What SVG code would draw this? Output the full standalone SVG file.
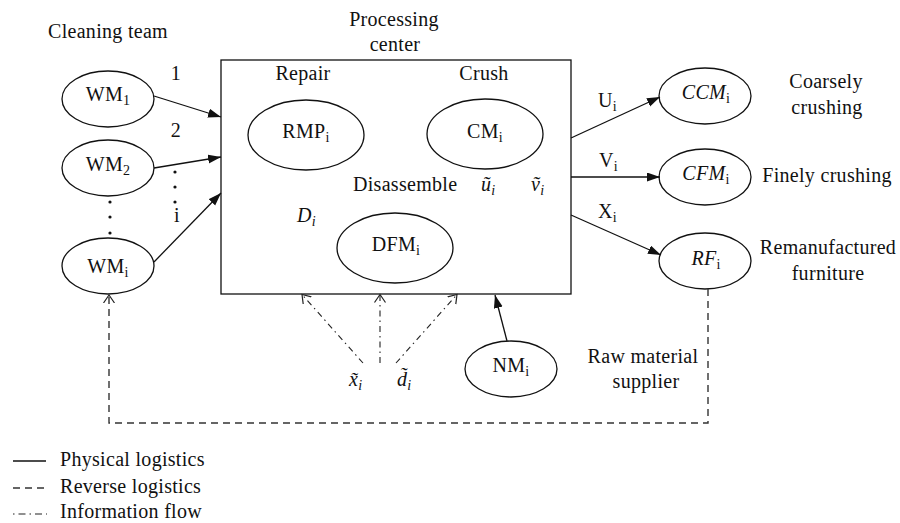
<svg xmlns="http://www.w3.org/2000/svg" width="900" height="523" viewBox="0 0 900 523">
<style>
text{font-family:"Liberation Serif","Times New Roman",serif;font-size:20px;fill:#111;letter-spacing:0.3px}
.c{text-anchor:middle}
.it{font-style:italic}
.sub{font-size:14px}
.node{fill:#fff;stroke:#111;stroke-width:1.3}
.solid{fill:none;stroke:#111;stroke-width:1.3}
.dash{fill:none;stroke:#333;stroke-width:1.4;stroke-dasharray:7 5}
.dd{fill:none;stroke:#222;stroke-width:1.1;stroke-dasharray:6 4 1.5 4}
</style>
<defs>
<marker id="arr" markerUnits="userSpaceOnUse" markerWidth="14" markerHeight="10" refX="13" refY="4.5" orient="auto">
<path d="M0,0 L13,4.5 L0,9 z" fill="#111"/>
</marker>
<marker id="open" markerUnits="userSpaceOnUse" markerWidth="12" markerHeight="14" refX="8" refY="6" orient="auto">
<path d="M0,0.5 L8,6 L0,11.5" fill="none" stroke="#222" stroke-width="1.2"/>
</marker>
</defs>

<rect fill="#fff" width="900" height="523"/>

<text class="c" x="108" y="38">Cleaning team</text>
<text class="c" x="394" y="26">Processing</text>
<text class="c" x="395" y="51">center</text>

<g id="processing-center">
<rect x="221" y="60" width="350" height="234" class="node"/>
<text class="c" x="303" y="80">Repair</text>
<text class="c" x="484" y="80">Crush</text>
<text x="353" y="191">Disassemble</text>
<text class="it" x="297" y="222">D<tspan class="sub" dy="4">i</tspan></text>
<text class="it" x="481" y="191">ũ<tspan class="sub" dy="4">i</tspan></text>
<text class="it" x="531" y="191">ṽ<tspan class="sub" dy="4">i</tspan></text>
</g>

<g id="RMP">
<ellipse cx="306" cy="135" rx="58" ry="35" class="node"/>
<text class="c" x="306" y="138">RMP<tspan class="sub" dy="4">i</tspan></text>
</g>
<g id="CM">
<ellipse cx="485" cy="134" rx="58" ry="35" class="node"/>
<text class="c" x="485" y="138">CM<tspan class="sub" dy="4">i</tspan></text>
</g>
<g id="DFM">
<ellipse cx="395" cy="248" rx="58" ry="35" class="node"/>
<text class="c" x="396" y="251">DFM<tspan class="sub" dy="4">i</tspan></text>
</g>

<g id="WM1">
<ellipse cx="108" cy="99" rx="46" ry="28" class="node"/>
<text class="c" x="108" y="101">WM<tspan class="sub" dy="4">1</tspan></text>
</g>
<g id="WM2">
<ellipse cx="108" cy="168" rx="46" ry="28" class="node"/>
<text class="c" x="108" y="171">WM<tspan class="sub" dy="4">2</tspan></text>
</g>
<g id="WMi">
<ellipse cx="108" cy="266" rx="46" ry="28" class="node"/>
<text class="c" x="108" y="273">WM<tspan class="sub" dy="4">i</tspan></text>
</g>
<g id="wm-dots" fill="#111">
<circle cx="110" cy="202" r="1.6"/>
<circle cx="110" cy="217" r="1.6"/>
<circle cx="110" cy="233" r="1.6"/>
</g>

<g id="CCM">
<ellipse cx="705" cy="96" rx="46" ry="28" class="node"/>
<text class="c" x="706" y="99"><tspan class="it">CCM</tspan><tspan class="sub" dy="4">i</tspan></text>
<text class="c" x="826" y="88">Coarsely</text>
<text class="c" x="827" y="114">crushing</text>
</g>
<g id="CFM">
<ellipse cx="705" cy="177" rx="46" ry="28" class="node"/>
<text class="c" x="706" y="180"><tspan class="it">CFM</tspan><tspan class="sub" dy="4">i</tspan></text>
<text class="c" x="827" y="182">Finely crushing</text>
</g>
<g id="RF">
<ellipse cx="705" cy="261" rx="46" ry="28" class="node"/>
<text class="c" x="706" y="265"><tspan class="it">RF</tspan><tspan class="sub" dy="4">i</tspan></text>
<text class="c" x="828" y="254">Remanufactured</text>
<text class="c" x="828" y="280">furniture</text>
</g>
<g id="NM">
<ellipse cx="511" cy="369" rx="46" ry="28" class="node"/>
<text class="c" x="511" y="372">NM<tspan class="sub" dy="4">i</tspan></text>
<text class="c" x="643" y="363">Raw material</text>
<text class="c" x="646" y="388">supplier</text>
</g>

<g id="connectors">
<line x1="154" y1="96" x2="221" y2="117" class="solid" marker-end="url(#arr)"/>
<line x1="154" y1="168" x2="221" y2="157" class="solid" marker-end="url(#arr)"/>
<line x1="154" y1="262" x2="221" y2="193" class="solid" marker-end="url(#arr)"/>
<line x1="571" y1="138" x2="660" y2="97" class="solid" marker-end="url(#arr)"/>
<line x1="571" y1="177" x2="660" y2="177" class="solid" marker-end="url(#arr)"/>
<line x1="571" y1="215" x2="661" y2="255" class="solid" marker-end="url(#arr)"/>
<line x1="507" y1="341" x2="495" y2="295" class="solid" marker-end="url(#arr)"/>
<path d="M708,289 L708,423 L109,423 L109,295" class="dash" marker-end="url(#open)"/>
<line x1="363" y1="363" x2="302" y2="294.5" class="dd" marker-end="url(#open)"/>
<line x1="380" y1="363" x2="380" y2="294.5" class="dd" marker-end="url(#open)"/>
<line x1="396" y1="363" x2="457" y2="294.5" class="dd" marker-end="url(#open)"/>
<text class="c" x="176" y="80">1</text>
<text class="c" x="176" y="137">2</text>
<circle cx="175" cy="172" r="1.6" fill="#111"/>
<circle cx="175" cy="187" r="1.6" fill="#111"/>
<circle cx="175" cy="202" r="1.6" fill="#111"/>
<text class="c" x="177" y="222">i</text>
<text x="598" y="107">U<tspan class="sub" dy="4">i</tspan></text>
<text x="599" y="167">V<tspan class="sub" dy="4">i</tspan></text>
<text x="598" y="218">X<tspan class="sub" dy="4">i</tspan></text>
<text class="it" x="349" y="386">x̃<tspan class="sub" dy="4">i</tspan></text>
<text class="it" x="397" y="386">d̃<tspan class="sub" dy="4">i</tspan></text>
</g>

<g id="legend">
<line x1="13" y1="461" x2="46" y2="461" class="solid"/>
<text x="60" y="466">Physical logistics</text>
<line x1="13" y1="488" x2="47" y2="488" class="dash" style="stroke-dasharray:7 5"/>
<text x="60" y="493">Reverse logistics</text>
<line x1="13" y1="514" x2="47" y2="514" class="dd" style="stroke-dasharray:1.5 4 7 4"/>
<text x="60" y="518">Information flow</text>
</g>
</svg>
